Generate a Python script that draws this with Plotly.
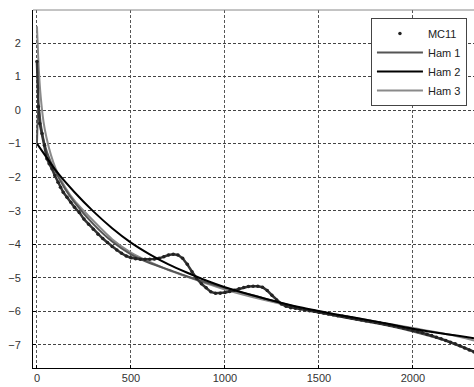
import plotly.graph_objects as go

# MC11 samples (dense dots)
mc_x = [0, 8, 15, 27, 40, 53, 65, 80, 95, 112, 125, 140, 160, 180, 200, 225, 250, 275, 300, 325,
        350, 375, 400, 425, 450, 475, 500, 525, 550, 575, 600, 625, 650, 675, 700, 725, 750, 775,
        800, 825, 850, 875, 900, 925, 950, 975, 1000, 1025, 1050, 1075, 1100, 1125, 1150, 1175,
        1200, 1225, 1250, 1275, 1300, 1325, 1350, 1375, 1400, 1425, 1450, 1475, 1500, 1525, 1550,
        1575, 1600, 1625, 1650, 1675, 1700, 1725, 1750, 1775, 1800, 1825, 1850, 1875, 1900, 1925,
        1950, 1975, 2000, 2025, 2050, 2075, 2100, 2125, 2150, 2175, 2200, 2225, 2250, 2275, 2300, 2325]
mc_y = [1.45, 0.1, -0.4, -0.7, -1.05, -1.45, -1.6, -1.75, -1.95, -2.15, -2.3, -2.45, -2.6, -2.75,
        -2.9, -3.05, -3.25, -3.4, -3.55, -3.7, -3.83, -3.95, -4.07, -4.17, -4.27, -4.35, -4.4,
        -4.43, -4.45, -4.45, -4.45, -4.44, -4.42, -4.37, -4.32, -4.3, -4.32, -4.42, -4.6, -4.82,
        -5.02, -5.18, -5.3, -5.42, -5.46, -5.46, -5.44, -5.41, -5.37, -5.33, -5.29, -5.26, -5.25,
        -5.25, -5.28, -5.38, -5.52, -5.66, -5.78, -5.85, -5.89, -5.91, -5.93, -5.955, -5.98, -6.0,
        -6.03, -6.05, -6.08, -6.1, -6.13, -6.15, -6.18, -6.2, -6.23, -6.25, -6.28, -6.3, -6.33,
        -6.35, -6.38, -6.41, -6.44, -6.47, -6.5, -6.53, -6.57, -6.6, -6.64, -6.68, -6.72, -6.77,
        -6.82, -6.87, -6.92, -6.97, -7.03, -7.09, -7.15, -7.21]

# Ham 1
h1_x = [0, 8, 20, 40, 70, 100, 150, 200, 300, 400, 500, 600, 700, 800, 1000, 1200, 1400, 1600, 1800, 2000, 2200, 2325]
h1_y = [-1.0, 0.2, -0.4, -1.0, -1.5, -1.85, -2.35, -2.75, -3.4, -3.92, -4.3, -4.56, -4.76, -4.96,
        -5.3, -5.6, -5.9, -6.15, -6.35, -6.6, -6.92, -7.2]

# Ham 2
h2_x = [0, 50, 100, 200, 300, 400, 500, 600, 700, 800, 900, 1000, 1200, 1400, 1600, 1800, 2000, 2200, 2325]
h2_y = [-1.0, -1.4, -1.8, -2.45, -3.02, -3.52, -3.95, -4.3, -4.6, -4.85, -5.08, -5.28, -5.6,
        -5.88, -6.1, -6.3, -6.52, -6.7, -6.8]

# Ham 3
h3_x = [0, 10, 20, 35, 50, 75, 100, 150, 200, 300, 400, 500, 600, 700, 800, 1000, 1200, 1400, 1600, 1800, 2000, 2200, 2325]
h3_y = [2.5, 1.2, 0.4, -0.35, -0.8, -1.35, -1.75, -2.3, -2.7, -3.3, -3.85, -4.25, -4.53, -4.77,
        -4.97, -5.35, -5.65, -5.9, -6.1, -6.3, -6.5, -6.7, -6.87]

x_ticks = [0, 500, 1000, 1500, 2000]
y_ticks = [2, 1, 0, -1, -2, -3, -4, -5, -6, -7]

fig = go.Figure()
fig.add_trace(go.Scatter(x=h3_x, y=h3_y, mode="lines", name="Ham 3", legendrank=4,
                         line=dict(color="#8a8a8a", width=2, shape="spline", smoothing=0.6)))
fig.add_trace(go.Scatter(x=h1_x, y=h1_y, mode="lines", name="Ham 1", legendrank=2,
                         line=dict(color="#555555", width=2, shape="spline", smoothing=0.6)))
fig.add_trace(go.Scatter(x=mc_x, y=mc_y, mode="lines", showlegend=False, hoverinfo="skip",
                         line=dict(color="#333333", width=2.5)))
fig.add_trace(go.Scatter(x=mc_x, y=mc_y, mode="markers", name="MC11", legendrank=1,
                         marker=dict(color="#222222", size=3.5)))
fig.add_trace(go.Scatter(x=h2_x, y=h2_y, mode="lines", name="Ham 2", legendrank=3,
                         line=dict(color="#000000", width=2, shape="spline", smoothing=0.8)))

axis_font = dict(family="Liberation Sans, Arial, sans-serif", size=11, color="#333333")
fig.update_layout(
    width=474, height=387,
    margin=dict(l=33, r=0, t=10, b=19),
    paper_bgcolor="white", plot_bgcolor="white",
    showlegend=True,
    legend=dict(x=0.984, y=0.978, xanchor="right", yanchor="top",
                bgcolor="white", bordercolor="#444444", borderwidth=1,
                font=dict(family="Liberation Sans, Arial, sans-serif", size=11, color="#222222"),
                itemwidth=46, tracegroupgap=0, traceorder="normal"),
    xaxis=dict(range=[-21, 2325], tickvals=x_ticks, showgrid=True, gridcolor="#555555",
               griddash="3px,2px", gridwidth=1, zeroline=False, showline=True,
               linecolor="black", linewidth=1, ticks="inside", ticklen=3, tickcolor="black",
               tickfont=axis_font),
    yaxis=dict(range=[-7.69, 2.985], tickvals=y_ticks, showgrid=True, gridcolor="#444444",
               griddash="3px,2px", gridwidth=1, zeroline=False, showline=True,
               linecolor="black", linewidth=1, ticks="inside", ticklen=3, tickcolor="black",
               tickfont=axis_font, ticklabelstandoff=9),
)
fig.add_shape(type="line", xref="paper", yref="paper", x0=0, x1=1, y0=1, y1=1,
              line=dict(color="#888888", width=1))
fig.write_html("out.html")
